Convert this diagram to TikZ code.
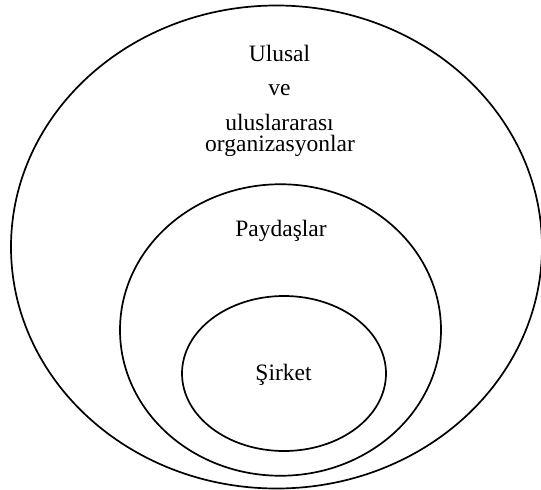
\documentclass[tikz,border=0pt]{standalone}
\usepackage{fontspec}
\setmainfont{Liberation Serif}
\usetikzlibrary{shapes.geometric}
\begin{document}
\begin{tikzpicture}[x=1pt,y=-1pt,
  ring/.style={draw=black,line width=1.7pt,ellipse,inner sep=0pt},
  lbl/.style={anchor=base,inner sep=0pt,font=\fontsize{23.5}{26}\selectfont}]
\useasboundingbox (0,0) rectangle (541,490);
\node[ring,minimum width=531,minimum height=483] (outer) at (276.5,247) {};
\node[ring,minimum width=321,minimum height=291.5] (middle) at (280.5,330) {};
\node[ring,minimum width=204,minimum height=155] (inner) at (284,373.5) {};
\node[lbl] (t1) at (279.5,61.5) {Ulusal};
\node[lbl] (t2) at (279.5,95) {ve};
\node[lbl] (t3) at (279.5,130) {uluslararası};
\node[lbl] (t4) at (280,151) {organizasyonlar};
\node[lbl] (t5) at (281,236.5) {Paydaşlar};
\node[lbl] (t6) at (283.5,380) {Şirket};
\end{tikzpicture}
\end{document}
